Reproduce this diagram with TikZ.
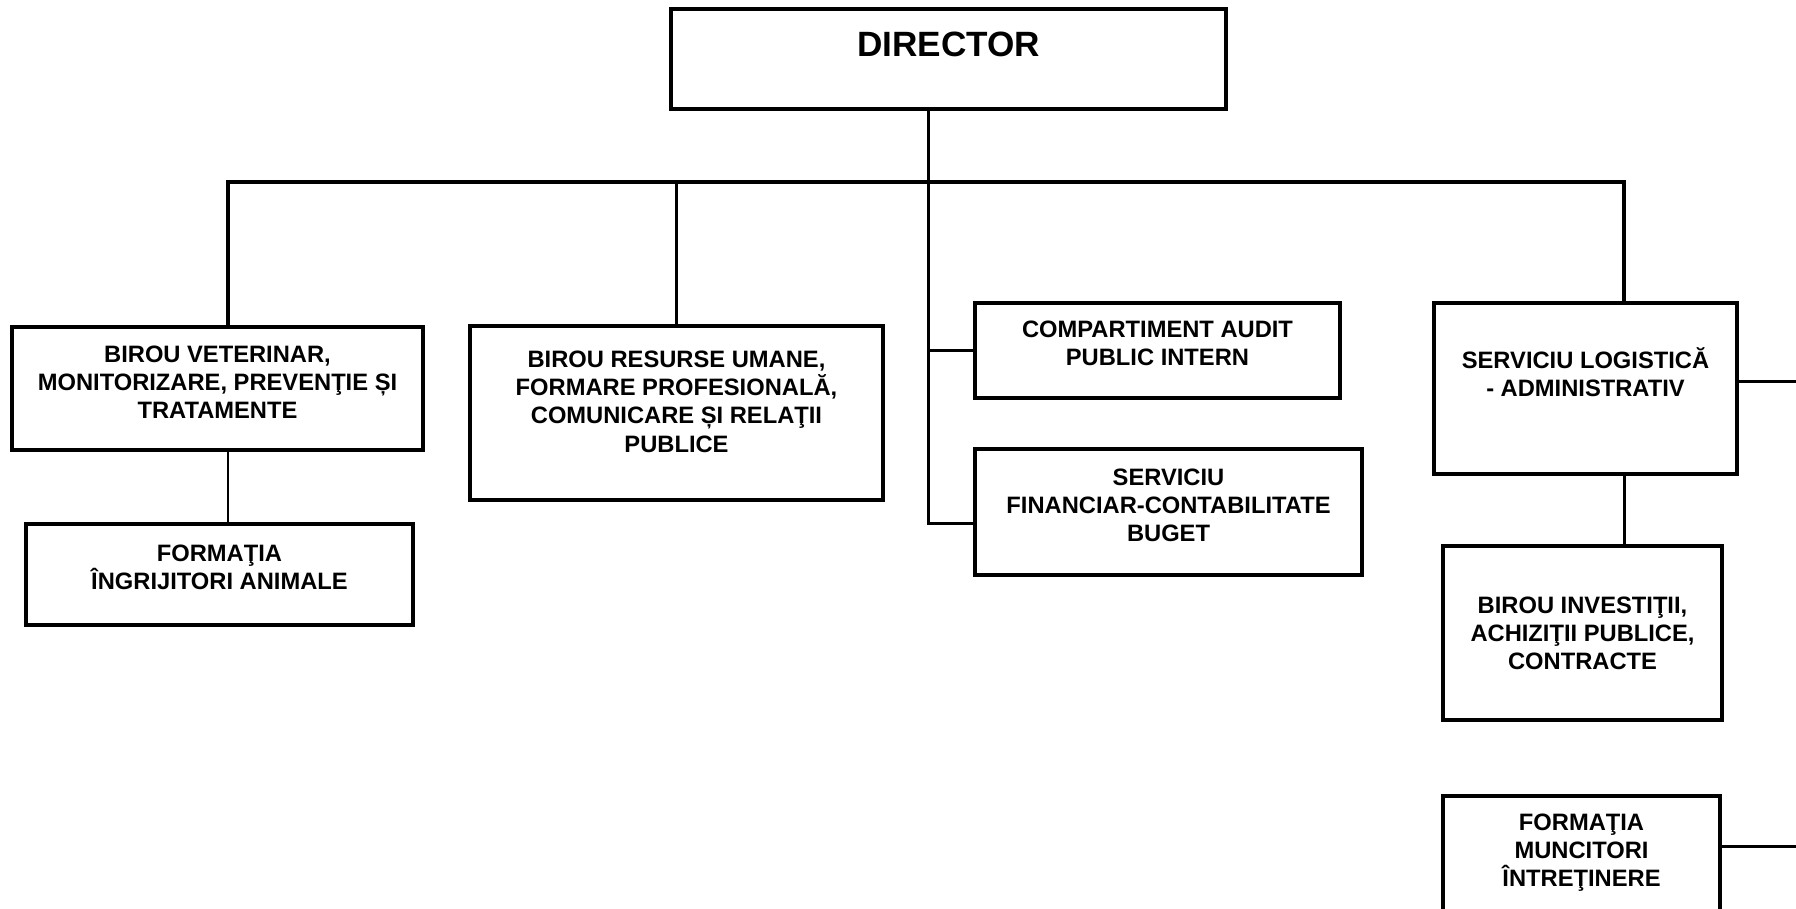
\documentclass[tikz,border=0pt]{standalone}
\usepackage{fontspec}
\setmainfont{Liberation Sans}
\usetikzlibrary{calc}
\newdimen\px \px=0.02cm
% box text: width, height, first baseline, lines
\newcommand{\boxtext}[4]{\parbox[c][#2\px][t]{#1\px}{\centering\rule{0pt}{#3\px}#4\par}}
\tikzstyle{box} = [rectangle, draw = black, line width = 2.2pt, inner sep = 0pt, font = \fontsize{13.5}{16.2}\selectfont\bfseries]
\tikzstyle{link} = [draw = black, line width = 1.7pt]
\tikzstyle{bus} = [draw = black, line width = 2.4pt]
\begin{document}
\begin{tikzpicture}[x=0.02cm, y=-0.02cm]
	\clip (0,0) rectangle (1796,909);
	\node (dir) [box, font=\fontsize{20}{24}\selectfont\bfseries] at (948.5,59) {\boxtext{555}{100}{48}{DIRECTOR}};
	\node (vet) [box] at (217.5,388.5) {\boxtext{411}{123}{35}{BIROU VETERINAR,\\MONITORIZARE, PREVENŢIE ȘI\\TRATAMENTE}};
	\node (ingr) [box] at (219.5,574.5) {\boxtext{387}{101}{37}{FORMAŢIA\\ÎNGRIJITORI ANIMALE}};
	\node (hr) [box] at (676.5,413) {\boxtext{413}{174}{41}{BIROU RESURSE UMANE,\\FORMARE PROFESIONALĂ,\\COMUNICARE ȘI RELAŢII\\PUBLICE}};
	\node (audit) [box] at (1157.5,350.5) {\boxtext{365}{95}{34}{COMPARTIMENT AUDIT\\PUBLIC INTERN}};
	\node (fin) [box] at (1168.5,512) {\boxtext{387}{126}{36}{SERVICIU\\FINANCIAR-CONTABILITATE\\BUGET}};
	\node (log) [box] at (1585.5,388.5) {\boxtext{303}{171}{65}{SERVICIU LOGISTICĂ\\- ADMINISTRATIV}};
	\node (inv) [box] at (1582.5,633) {\boxtext{279}{174}{67}{BIROU INVESTIŢII,\\ACHIZIŢII PUBLICE,\\CONTRACTE}};
	\node (munc) [box] at (1581.5,863) {\boxtext{277}{134}{34}{FORMAŢIA\\MUNCITORI\\ÎNTREŢINERE}};
	\coordinate (busL) at (228,182);
	\coordinate (busM) at (928,182);
	\coordinate (busR) at (1624,182);
	\coordinate (edge) at (1796,0);
	\coordinate (finIn) at ($(fin.north west)!0.59!(fin.south west)$);
	\coordinate (logOut) at ($(log.north east)!0.46!(log.south east)$);
	\coordinate (muncOut) at ($(munc.north east)+(0,52)$);
	\draw [bus] (busL |- vet.north) -- (busL) -- (busR) -- (busR |- log.north);
	\draw [link] (busM |- dir.south) -- (busM |- finIn) -- (finIn);
	\draw [link] (busM |- audit.west) -- (audit.west);
	\draw [link] (hr.north |- busL) -- (hr.north);
	\draw [link] (vet.south -| busL) -- (ingr.north -| busL);
	\draw [link] (log.south -| busR) -- (inv.north -| busR);
	\draw [link] (logOut) -- (logOut -| edge);
	\draw [link] (muncOut) -- (muncOut -| edge);
\end{tikzpicture}
\end{document}
